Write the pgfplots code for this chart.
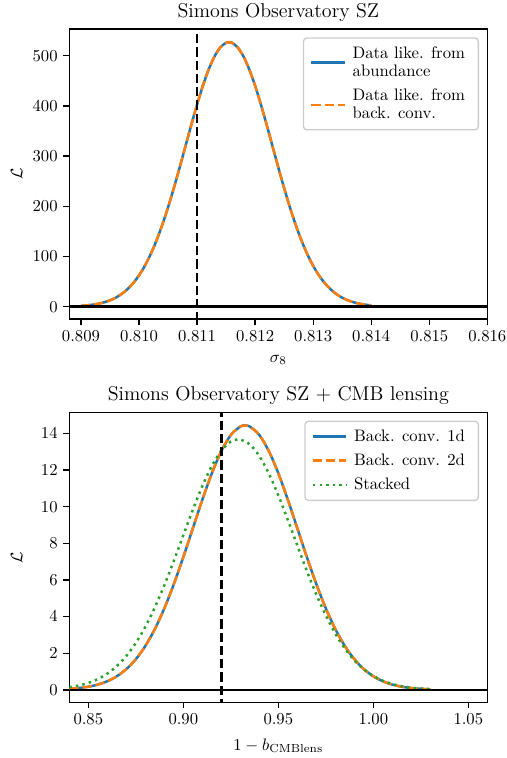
\documentclass[border=0pt]{standalone}
\usepackage{pgfplots}
\pgfplotsset{compat=1.18}
\usepackage{pgfplotstable}
\definecolor{c0}{HTML}{1F77B4}
\definecolor{c1}{HTML}{FF7F0E}
\definecolor{c2}{HTML}{2CA02C}

\pgfplotstableread{
x y
0.8090 1.63
0.8091 2.54
0.8092 3.89
0.8093 5.85
0.8094 8.66
0.8095 12.58
0.8096 17.94
0.8097 25.16
0.8098 34.65
0.8099 46.86
0.8100 62.27
0.8101 81.31
0.8102 104.3
0.8103 131.4
0.8104 162.7
0.8105 197.8
0.8106 236.3
0.8107 277.3
0.8108 319.6
0.8109 362.0
0.8110 402.7
0.8111 440.2
0.8112 472.6
0.8113 498.5
0.8114 516.6
0.8115 525.8
0.81155 527.0
0.8116 525.8
0.8117 516.6
0.8118 498.5
0.8119 472.6
0.8120 440.2
0.8121 402.7
0.8122 362.0
0.8123 319.6
0.8124 277.3
0.8125 236.3
0.8126 197.8
0.8127 162.7
0.8128 131.4
0.8129 104.3
0.8130 81.31
0.8131 62.27
0.8132 46.86
0.8133 34.65
0.8134 25.16
0.8135 17.94
0.8136 12.58
0.8137 8.66
0.8138 5.85
0.8139 3.89
0.8140 2.54
}\topdata

\pgfplotstableread{
x y
0.840 0.0547
0.845 0.0983
0.850 0.1710
0.855 0.2880
0.860 0.4696
0.865 0.7410
0.870 1.1318
0.875 1.6733
0.880 2.3946
0.885 3.3169
0.890 4.4474
0.895 5.7716
0.900 7.2501
0.905 8.8154
0.910 10.375
0.915 11.819
0.920 13.033
0.925 13.911
0.930 14.371
0.9325 14.430
0.935 14.371
0.940 13.911
0.945 13.033
0.950 11.819
0.955 10.375
0.960 8.815
0.965 7.250
0.970 5.772
0.975 4.447
0.980 3.317
0.985 2.395
0.990 1.673
0.995 1.132
1.000 0.741
1.005 0.470
1.010 0.288
1.015 0.171
1.020 0.098
1.025 0.055
1.030 0.029
}\backconv

\pgfplotstableread{
x y
0.840 0.1444
0.845 0.2374
0.850 0.3792
0.855 0.5885
0.860 0.8874
0.865 1.3004
0.870 1.8514
0.875 2.5614
0.880 3.4433
0.885 4.4980
0.890 5.7090
0.895 7.0411
0.900 8.4380
0.905 9.8257
0.910 11.118
0.915 12.223
0.920 13.058
0.925 13.555
0.929 13.680
0.930 13.672
0.935 13.400
0.940 12.761
0.945 11.809
0.950 10.618
0.955 9.277
0.960 7.876
0.965 6.497
0.970 5.207
0.975 4.056
0.980 3.0695
0.985 2.2572
0.990 1.6130
0.995 1.1199
1.000 0.7555
1.005 0.4953
1.010 0.3154
1.015 0.1951
1.020 0.1174
1.025 0.0686
1.030 0.0390
}\stacked

\pgfplotsset{
  mplstyle/.style={
    scale only axis, width=250.8pt, height=174pt,
    tick align=outside, tick pos=left, major tick length=3.5pt,
    every tick/.style={black, line width=0.8pt},
    axis line style={black, line width=0.8pt},
    scaled x ticks=false, scaled y ticks=false,
    title style={at={(axis description cs:0.5,1.0047)}, anchor=base, font=\large, inner sep=0pt},
    xlabel style={at={(axis description cs:0.5,-0.1241)}, anchor=north, inner sep=0pt},
    ylabel style={at={(axis description cs:-0.1116,0.5)}, anchor=south, rotate=0, inner sep=0pt},
    legend cell align=left,
    legend image code/.code={\draw[#1] (0pt,0pt) -- (20pt,0pt);},
    legend style={at={(1,1)}, anchor=north east, xshift=-5pt, yshift=-5pt,
      draw=black!20, line width=0.8pt, rounded corners=2pt, fill=white,
      inner xsep=4pt, inner ysep=2pt, font=\fontsize{10}{11}\selectfont,
      nodes={align=left, inner xsep=4pt, inner ysep=3pt},
      /tikz/every odd column/.append style={column sep=0pt}},
  },
  blueline/.style={c0, line width=1.5pt, solid, smooth},
  orangeline/.style={c1, line width=1.5pt, dash pattern=on 5.55pt off 2.4pt, smooth},
  greenline/.style={c2, line width=1.5pt, dash pattern=on 1.5pt off 2.475pt, smooth},
  refv/.style={black, line width=1.5pt, dash pattern=on 5.55pt off 2.4pt},
  refh/.style={black, line width=1.5pt, solid},
}

\begin{document}
\begin{tikzpicture}
\begin{axis}[mplstyle, at={(0pt,0pt)}, anchor=north west,
  title={Simons Observatory SZ},
  xlabel={$\sigma_8$}, ylabel={$\mathcal{L}$},
  xmin=0.8088, xmax=0.816, ymin=-24.6, ymax=553.3,
  xtick={0.809,0.810,0.811,0.812,0.813,0.814,0.815,0.816},
  ytick={0,100,200,300,400,500},
  xticklabel style={/pgf/number format/.cd, fixed, fixed zerofill, precision=3},
]
\addplot[blueline] table[x=x,y=y] {\topdata};
\addlegendentry{Data like. from\\abundance}
\addplot[orangeline] table[x=x,y=y] {\topdata};
\addlegendentry{Data like. from\\back. conv.}
\addplot[refv, forget plot] coordinates {(0.811,-30) (0.811,560)};
\addplot[refh, forget plot] coordinates {(0.8088,0) (0.816,0)};
\end{axis}

\begin{axis}[mplstyle, at={(0pt,-229.98pt)}, anchor=north west,
  title={Simons Observatory SZ + CMB lensing},
  xlabel={$1-b_{\mathrm{CMBlens}}$}, ylabel={$\mathcal{L}$},
  xmin=0.84, xmax=1.06, ymin=-0.68, ymax=15.15,
  xtick={0.85,0.90,0.95,1.00,1.05},
  ytick={0,2,4,6,8,10,12,14},
  xticklabel style={/pgf/number format/.cd, fixed, fixed zerofill, precision=2},
]
\addplot[blueline] table[x=x,y=y] {\backconv};
\addlegendentry{Back. conv. 1d}
\addplot[orangeline] table[x=x,y=y] {\backconv};
\addlegendentry{Back. conv. 2d}
\addplot[greenline] table[x=x,y=y] {\stacked};
\addlegendentry{Stacked}
\addplot[refv, forget plot] coordinates {(0.92,-1) (0.92,16)};
\addplot[refh, forget plot] coordinates {(0.84,0) (1.06,0)};
\end{axis}
\pgfresetboundingbox
\path[use as bounding box] (-41.6pt,17.4pt) rectangle (262.6pt,-437.4pt);
\end{tikzpicture}
\end{document}
